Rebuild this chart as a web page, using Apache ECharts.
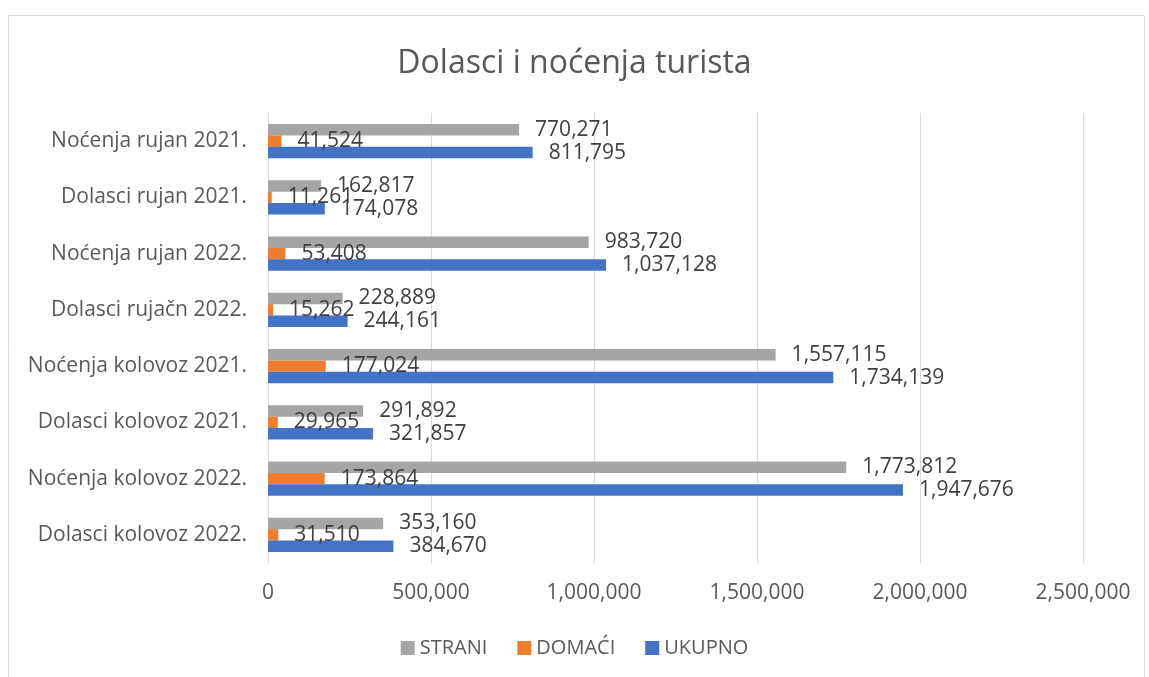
<!DOCTYPE html>
<html>
<head>
<meta charset="utf-8">
<script src="https://cdn.jsdelivr.net/npm/echarts@6/dist/echarts.min.js"></script>
<style>
  html, body { margin: 0; padding: 0; background: #fff; }
  #chart { width: 1149px; height: 677px; }
</style>
</head>
<body>
<div id="chart"></div>
<script>
// categories listed bottom to top
var categories = ['Dolasci kolovoz 2022.', 'Noćenja kolovoz 2022.', 'Dolasci kolovoz 2021.', 'Noćenja kolovoz 2021.',
	'Dolasci rujačn 2022.', 'Noćenja rujan 2022.', 'Dolasci rujan 2021.', 'Noćenja rujan 2021.'];
var strani = [353160, 1773812, 291892, 1557115, 228889, 983720, 162817, 770271];
var domaci = [31510, 173864, 29965, 177024, 15262, 53408, 11261, 41524];
var ukupno = [384670, 1947676, 321857, 1734139, 244161, 1037128, 174078, 811795];

var font = '"Open Sans", sans-serif';

function fmt(v) {
	return Number(v).toLocaleString('en-US');
}

function label() {
	return {
		show: true,
		position: 'right',
		distance: 16,
		color: '#404040',
		fontSize: 21,
		fontFamily: font,
		formatter: function (p) { return fmt(p.value); }
	};
}

var option = {
	animation: false,
	title: {
		text: 'Dolasci i noćenja turista',
		left: 'center',
		top: 43,
		textStyle: { color: '#595959', fontSize: 32, fontWeight: 'normal', fontFamily: font }
	},
	legend: {
		data: ['STRANI', 'DOMAĆI', 'UKUPNO'],
		bottom: 14,
		left: 'center',
		icon: 'rect',
		itemWidth: 14,
		itemHeight: 14,
		itemGap: 30,
		textStyle: { color: '#595959', fontSize: 20, fontFamily: font }
	},
	grid: { left: 268, right: 66, top: 113, bottom: 114, containLabel: false },
	xAxis: {
		type: 'value',
		min: 0,
		max: 2500000,
		interval: 500000,
		axisLine: { show: false },
		axisTick: { show: false },
		splitLine: { lineStyle: { color: '#d9d9d9', width: 1 } },
		axisLabel: {
			color: '#595959', fontSize: 21, fontFamily: font, margin: 20,
			formatter: function (v) { return fmt(v); }
		}
	},
	yAxis: {
		type: 'category',
		data: categories,
		axisLine: { show: true, lineStyle: { color: '#d9d9d9' } },
		axisTick: { show: false },
		axisLabel: { color: '#595959', fontSize: 21, fontFamily: font, margin: 21 }
	},
	graphic: [{
		type: 'rect',
		shape: { x: 8.5, y: 15.5, width: 1136, height: 670 },
		style: { fill: 'none', stroke: '#d9d9d9', lineWidth: 1 },
		silent: true
	}],
	series: [
		{
			name: 'STRANI', type: 'bar', data: strani,
			itemStyle: { color: '#A5A5A5' },
			barGap: '0%', barCategoryGap: '39%',
			label: label()
		},
		{
			name: 'DOMAĆI', type: 'bar', data: domaci,
			itemStyle: { color: '#ED7D31' },
			label: label()
		},
		{
			name: 'UKUPNO', type: 'bar', data: ukupno,
			itemStyle: { color: '#4472C4' },
			label: label()
		}
	]
};

var chart = echarts.init(document.getElementById('chart'));
chart.setOption(option);
</script>
</body>
</html>
